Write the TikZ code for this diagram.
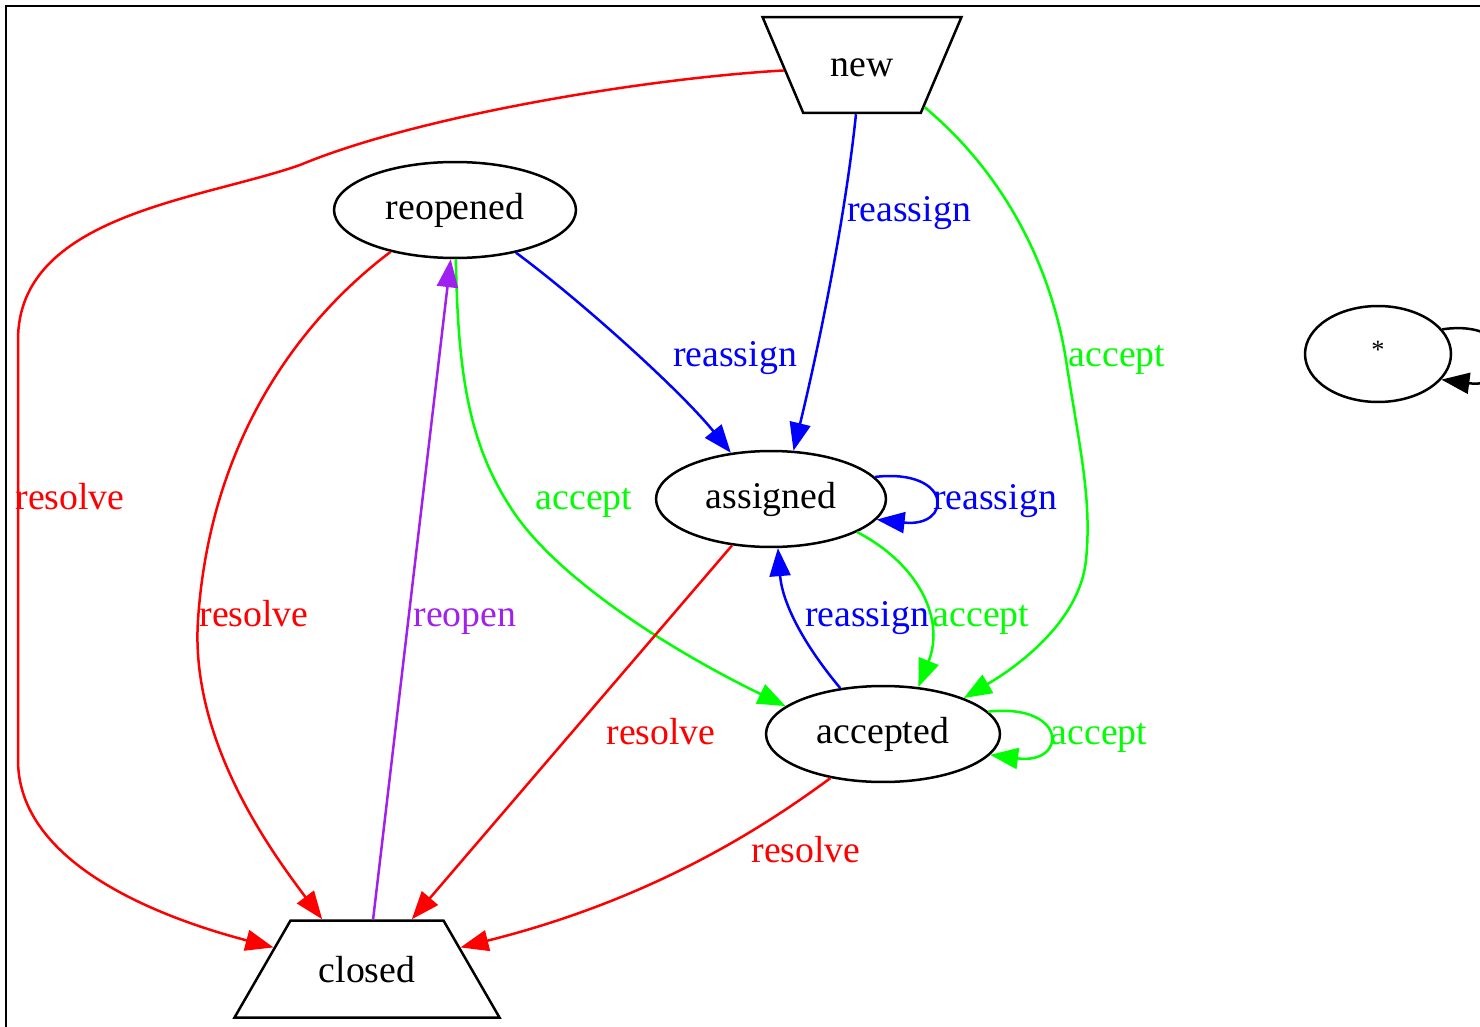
\documentclass[tikz,border=0pt]{standalone}
\usepackage{fontspec}
\setmainfont{Liberation Serif}
\usetikzlibrary{shapes.geometric, arrows.meta, positioning}
\definecolor{reopenpurple}{RGB}{160, 32, 240}
\tikzstyle{state} = [ellipse, draw=black, line width=0.05cm, minimum height=1.92cm, inner sep=0pt, font=\fontsize{21.5}{26}\selectfont]
\tikzstyle{endstate} = [trapezium, trapezium stretches body, draw=black, line width=0.05cm, inner sep=0pt, font=\fontsize{21.5}{26}\selectfont]
\tikzstyle{arrow} = [line width=0.05cm, -{Triangle[length=0.56cm, width=0.42cm]}]
\tikzstyle{lbl} = [anchor=base, inner sep=0pt, font=\fontsize{21.5}{26}\selectfont]

\begin{document}
\begin{tikzpicture}[x=0.02cm, y=-0.02cm]
\useasboundingbox (0,0) rectangle (1480,1027);
\draw [line width=0.05cm] (1500,6) -- (6,6) -- (6,1050);

\node (new) [endstate, trapezium left angle=113, trapezium right angle=113, minimum width=3.98cm, text height=1.2cm, text depth=0.72cm] at (862,65) {new};
\node (closed) [endstate, trapezium left angle=60, trapezium right angle=60, minimum width=5.3cm, text height=1.23cm, text depth=0.71cm] at (367,969) {closed};
\node (reopened) [state, minimum width=4.84cm] at (455,210) {reopened};
\node (assigned) [state, minimum width=4.6cm] at (771,499) {assigned};
\node (accepted) [state, minimum width=4.68cm] at (883,734) {accepted};
\node (any) [state, minimum width=2.92cm, text depth=0.15cm, font=\fontsize{15}{18}\selectfont] at (1378,354) {*};

% Arrows
\draw [arrow, red] (new.184) .. controls (650,78) and (420,115) .. (300,165) .. controls (200,200) and (18,215) .. (18,340) -- (18,760) .. controls (18,860) and (150,915) .. (closed.167) node [lbl] at (70,509) {resolve};
\draw [arrow, blue] (new.-97) .. controls (845,220) and (818,350) .. (assigned.65) node [lbl] at (909,221) {reassign};
\draw [arrow, green] (new.-34) .. controls (1000,170) and (1050,260) .. (1066,360) .. controls (1080,450) and (1092,500) .. (1086,560) .. controls (1080,620) and (1020,665) .. (accepted.24) node [lbl] at (1117,366) {accept};
\draw [arrow, blue] (reopened.-35) .. controls (580,300) and (680,390) .. (assigned.131) node [lbl] at (735,366) {reassign};
\draw [arrow, red] (reopened.-147) .. controls (300,320) and (210,440) .. (198,620) .. controls (190,740) and (270,850) .. (closed.132) node [lbl] at (254,626) {resolve};
\draw [arrow, green] (reopened.-89) .. controls (458,380) and (470,450) .. (517,517) .. controls (570,590) and (690,660) .. (accepted.164) node [lbl] at (584,509) {accept};
\draw [arrow, reopenpurple] (closed.83) -- (reopened.-95) node [lbl] at (465,626) {reopen};
\draw [arrow, blue] (assigned.12) .. controls (953,468) and (953,528) .. (assigned.-11) node [lbl] at (995,509) {reassign};
\draw [arrow, red] (assigned.-130) -- (closed.48) node [lbl] at (661,744) {resolve};
\draw [arrow, green] (assigned.-21) .. controls (920,565) and (945,620) .. (accepted.53) node [lbl] at (981,626) {accept};
\draw [arrow, blue] (accepted.133) .. controls (800,640) and (782,600) .. (assigned.-82) node [lbl] at (867,626) {reassign};
\draw [arrow, green] (accepted.12) .. controls (1068,703) and (1068,765) .. (accepted.-11) node [lbl] at (1099,744) {accept};
\draw [arrow, red] (accepted.-140) .. controls (760,830) and (650,900) .. (closed.13) node [lbl] at (806,862) {resolve};
\draw [arrow] (any.21) .. controls (1520,318) and (1520,390) .. (any.-22);

\end{tikzpicture}
\end{document}
